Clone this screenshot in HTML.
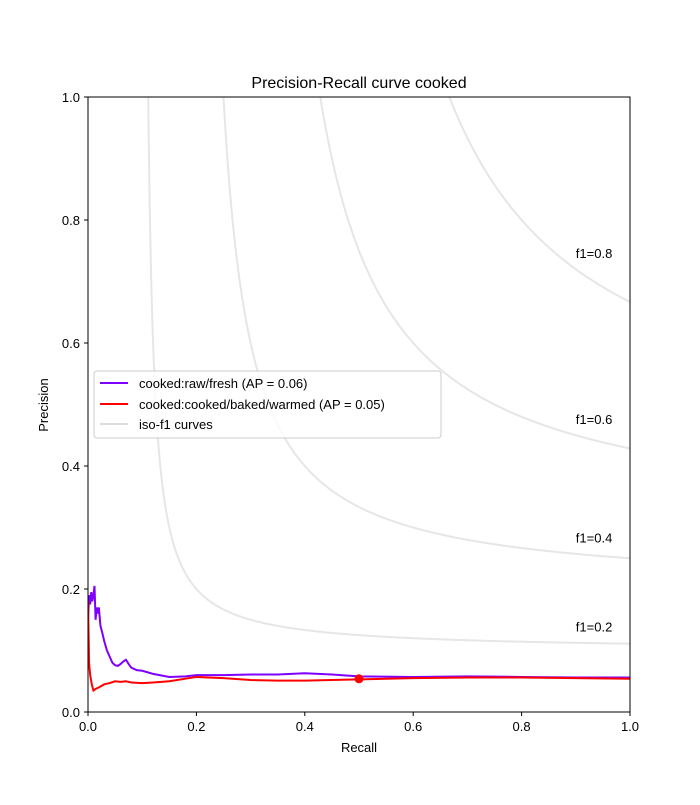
<!DOCTYPE html>
<html><head><meta charset="utf-8"><style>
body{margin:0;background:#fff}
svg text{font-family:"Liberation Sans","DejaVu Sans",sans-serif;fill:#000}
</style></head><body>
<svg id="chart" width="700" height="800" viewBox="0 0 700 800" xmlns="http://www.w3.org/2000/svg">
<defs><clipPath id="pc"><rect x="88" y="97" width="542" height="615"/></clipPath></defs>
<rect width="700" height="800" fill="#fff"/>
<text x="359" y="88" font-size="16" text-anchor="middle">Precision-Recall curve cooked</text>
<g id="iso" clip-path="url(#pc)"></g>
<g id="isolabels"></g>
<g id="series" clip-path="url(#pc)"></g>
<rect x="88" y="97" width="542" height="615" fill="none" stroke="#000" stroke-width="1"/>
<g id="axes"></g>
<text x="359" y="752" font-size="13" text-anchor="middle">Recall</text>
<text x="48" y="405" font-size="13" text-anchor="middle" transform="rotate(-90 48 405)">Precision</text>
<g>
<rect x="94" y="371" width="347" height="67" fill="#fff" fill-opacity="0.8" stroke="#ccc" rx="3"/>
<line x1="100" y1="383" x2="128" y2="383" stroke="#7f00ff" stroke-width="2"/>
<text x="139" y="388" font-size="13">cooked:raw/fresh (AP = 0.06)</text>
<line x1="100" y1="404" x2="128" y2="404" stroke="#ff0000" stroke-width="2"/>
<text x="139" y="409" font-size="13">cooked:cooked/baked/warmed (AP = 0.05)</text>
<line x1="100" y1="424" x2="128" y2="424" stroke="#ddd" stroke-width="2"/>
<text x="139" y="429" font-size="13">iso-f1 curves</text>
</g>
</svg>
<script>
const xTicks=[0,0.2,0.4,0.6,0.8,1.0];
const yTicks=[0,0.2,0.4,0.6,0.8,1.0];
const f1Levels=[0.2,0.4,0.6,0.8];
const purpleRecall=[0,0.002,0.004,0.006,0.008,0.01,0.012,0.014,0.016,0.018,0.02,0.023,0.026,0.03,0.035,0.04,0.045,0.05,0.055,0.06,0.065,0.07,0.075,0.08,0.09,0.1,0.12,0.15,0.18,0.2,0.25,0.3,0.35,0.4,0.45,0.5,0.6,0.7,0.8,0.9,1.0];
const purplePrecision=[0.15,0.19,0.175,0.195,0.18,0.19,0.205,0.15,0.17,0.16,0.17,0.14,0.13,0.115,0.1,0.09,0.08,0.076,0.075,0.078,0.082,0.085,0.078,0.072,0.068,0.067,0.062,0.057,0.058,0.06,0.06,0.061,0.061,0.063,0.061,0.058,0.057,0.058,0.057,0.056,0.056];
const redRecall=[0,0.002,0.004,0.007,0.01,0.015,0.02,0.03,0.04,0.05,0.06,0.07,0.08,0.1,0.12,0.15,0.2,0.25,0.3,0.35,0.4,0.45,0.5,0.6,0.7,0.8,0.9,1.0];
const redPrecision=[0.18,0.08,0.06,0.045,0.035,0.038,0.04,0.045,0.047,0.05,0.049,0.05,0.048,0.047,0.048,0.05,0.057,0.055,0.052,0.051,0.051,0.052,0.053,0.055,0.056,0.056,0.055,0.054];
const opRecall=[0.5], opPrecision=[0.054];
const NS="http://www.w3.org/2000/svg";
const X=v=>88+v*542, Y=v=>712-v*615;
function mk(t,a,p){const e=document.createElementNS(NS,t);for(const k in a)e.setAttribute(k,a[k]);p.appendChild(e);return e;}
const axes=document.getElementById('axes');
xTicks.forEach(t=>{
 const l=mk('line',{x1:X(t),x2:X(t),y1:712,y2:716,stroke:'#000'},axes);
 
 
 const tx=mk('text',{x:X(t),y:731,'font-size':13,'text-anchor':'middle'},axes);tx.textContent=t.toFixed(1);
 
 
});
yTicks.forEach(t=>{
 const l=mk('line',{x1:84,x2:88,y1:Y(t),y2:Y(t),stroke:'#000'},axes);
 
 
 const tx=mk('text',{x:80,y:Y(t)+5,'font-size':13,'text-anchor':'end'},axes);tx.textContent=t.toFixed(1);
 
 
});
const iso=document.getElementById('iso'), isoL=document.getElementById('isolabels');
f1Levels.forEach(f=>{
 let pts=[];
 for(let i=0;i<=400;i++){const x=0.01+i*(0.99/400);const y=f*x/(2*x-f);if(y>=0&&y<=1.3)pts.push(X(x)+','+Y(y));}
 const p=mk('polyline',{points:pts.join(' '),fill:'none',stroke:'#e6e6e6','stroke-width':2},iso);
 
 
 const t=mk('text',{x:X(0.9),y:Y(f*0.9/(1.8-f)+0.02)+1,'font-size':13},isoL);t.textContent='f1='+f;
 
 
});
const s=document.getElementById('series');
const pl=mk('polyline',{points:purpleRecall.map((r,i)=>X(r)+','+Y(purplePrecision[i])).join(' '),fill:'none',stroke:'#7f00ff','stroke-width':2},s);


const rl=mk('polyline',{points:redRecall.map((r,i)=>X(r)+','+Y(redPrecision[i])).join(' '),fill:'none',stroke:'#ff0000','stroke-width':2},s);


opRecall.forEach((r,i)=>{
 const c=mk('circle',{cx:X(r),cy:Y(opPrecision[i]),r:4.5,fill:'#ff0000'},s);
 
 
});
</script>
</body></html>
